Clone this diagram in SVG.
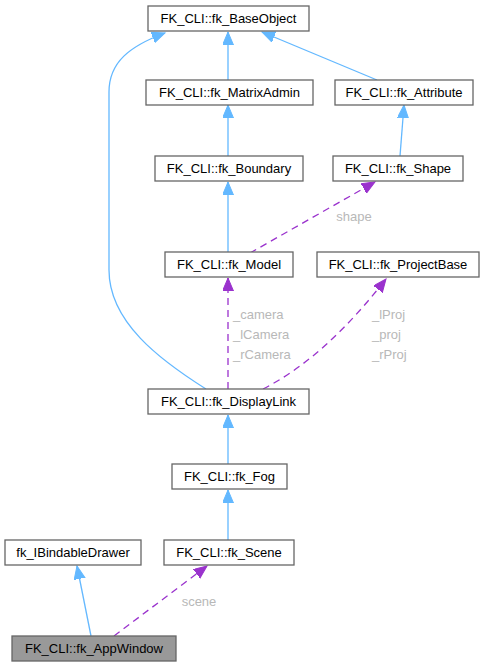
<svg xmlns="http://www.w3.org/2000/svg" width="485" height="667" viewBox="0 0 485 667">
<defs>
<style>
.n rect{fill:#fff;stroke:#666;stroke-width:1.3}
.n text{font-family:"Liberation Sans",Arial,sans-serif;font-size:13px;fill:#000;text-anchor:middle}
.inh{fill:none;stroke:#63b8ff;stroke-width:1.3;marker-end:url(#ab)}
.use{fill:none;stroke:#9a32cd;stroke-width:1.3;stroke-dasharray:7,5;marker-end:url(#ap)}
.lbl{font-family:"Liberation Sans",Arial,sans-serif;font-size:13px;fill:#b8b8b8}
</style>
<marker id="ab" markerUnits="userSpaceOnUse" markerWidth="15" markerHeight="12" refX="13" refY="5.5" orient="auto"><path d="M0,0 L13,5.5 L0,11 z" fill="#63b8ff" stroke="#63b8ff"/></marker>
<marker id="ap" markerUnits="userSpaceOnUse" markerWidth="15" markerHeight="12" refX="13" refY="5.5" orient="auto"><path d="M0,0 L13,5.5 L0,11 z" fill="#9a32cd" stroke="#9a32cd"/></marker>
</defs>
<rect width="485" height="667" fill="#fff"/>
<g id="connectors">
<path class="inh" d="M228,80 L228,32"/>
<path class="inh" d="M377,80 L262,32"/>
<path class="inh" d="M228,156 L228,105"/>
<path class="inh" d="M400,156 L404,105"/>
<path class="inh" d="M228,253 L228,182"/>
<path class="use" d="M250,253 L375,182"/>
<path class="use" d="M228,389 L228,278"/>
<path class="use" d="M263,389 C310,365 350,325 386,279"/>
<path class="inh" d="M206,389 C160,360 109,322 109,270 L109,92 C109,62 130,46 165,33"/>
<path class="inh" d="M228,464 L228,415"/>
<path class="inh" d="M228,540 L228,490"/>
<path class="inh" d="M91,636 L77,566"/>
<path class="use" d="M114,636 L207,566"/>
<text class="lbl" x="354" y="221" text-anchor="middle">shape</text>
<text class="lbl" x="233" y="319">_camera</text>
<text class="lbl" x="233" y="339">_lCamera</text>
<text class="lbl" x="233" y="359">_rCamera</text>
<text class="lbl" x="372" y="319">_lProj</text>
<text class="lbl" x="372" y="339">_proj</text>
<text class="lbl" x="372" y="359">_rProj</text>
<text class="lbl" x="199" y="606" text-anchor="middle">scene</text>
</g>
<g id="BaseObject" class="n"><rect x="148" y="6" width="161" height="25"/><text x="228.5" y="23">FK_CLI::fk_BaseObject</text></g>
<g id="MatrixAdmin" class="n"><rect x="146" y="80" width="167" height="25"/><text x="229.5" y="97">FK_CLI::fk_MatrixAdmin</text></g>
<g id="Attribute" class="n"><rect x="335" y="80" width="138" height="25"/><text x="404" y="97">FK_CLI::fk_Attribute</text></g>
<g id="Boundary" class="n"><rect x="155" y="156" width="148" height="25"/><text x="229" y="173">FK_CLI::fk_Boundary</text></g>
<g id="Shape" class="n"><rect x="333" y="156" width="130" height="25"/><text x="398" y="173">FK_CLI::fk_Shape</text></g>
<g id="Model" class="n"><rect x="165" y="252" width="128" height="25"/><text x="229" y="269">FK_CLI::fk_Model</text></g>
<g id="ProjectBase" class="n"><rect x="317" y="252" width="162" height="25"/><text x="398" y="269">FK_CLI::fk_ProjectBase</text></g>
<g id="DisplayLink" class="n"><rect x="148" y="389" width="161" height="25"/><text x="228.5" y="406">FK_CLI::fk_DisplayLink</text></g>
<g id="Fog" class="n"><rect x="172" y="464" width="115" height="25"/><text x="229.5" y="481">FK_CLI::fk_Fog</text></g>
<g id="IBindableDrawer" class="n"><rect x="5" y="540" width="136" height="25"/><text x="73" y="557">fk_IBindableDrawer</text></g>
<g id="Scene" class="n"><rect x="164" y="540" width="130" height="25"/><text x="229" y="557">FK_CLI::fk_Scene</text></g>
<g id="AppWindow" class="n"><rect x="12" y="636" width="164" height="25" style="fill:#999"/><text x="94" y="653">FK_CLI::fk_AppWindow</text></g>
</svg>
